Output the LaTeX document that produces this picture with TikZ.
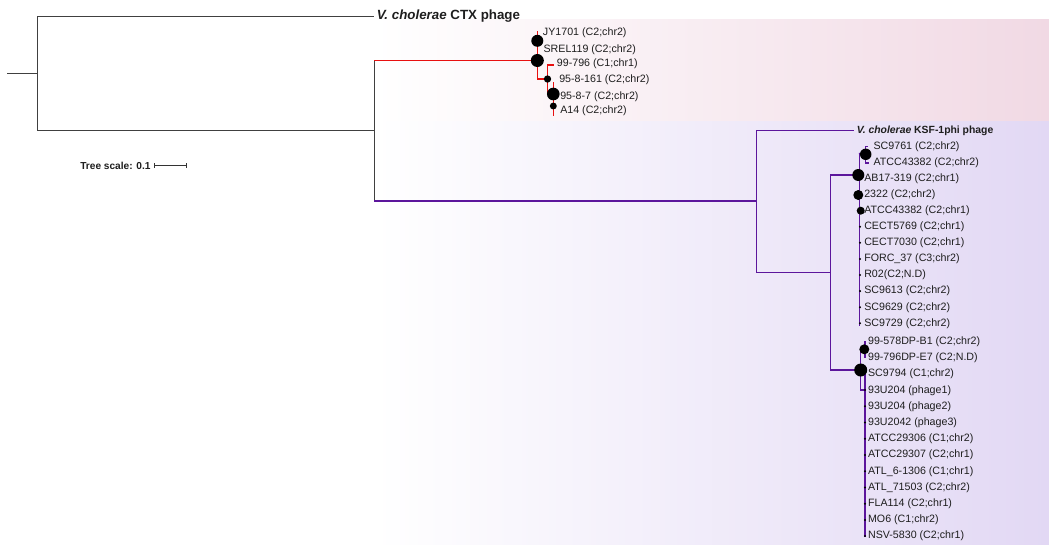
\documentclass[tikz,border=0pt]{standalone}
\usepackage{fontspec}
\setmainfont{Liberation Sans}
\definecolor{ctxred}{RGB}{232,16,16}
\definecolor{ksfpur}{RGB}{92,22,156}
\definecolor{pinkbg}{RGB}{241,217,228}
\definecolor{lavbg}{RGB}{226,216,244}
\definecolor{txt}{RGB}{30,30,30}
\begin{document}
\begin{tikzpicture}[x=0.75pt,y=-0.75pt,
  tline/.style={draw=black!75,line width=1.15pt,line cap=rect},
  cline/.style={draw=ctxred,line width=1pt,line cap=rect},
  kline/.style={draw=ksfpur,line width=1pt,line cap=rect},
  dotn/.style={circle,fill=black,inner sep=0pt,minimum size=#1},
  lab/.style={anchor=west,inner sep=0pt,text=txt,font=\fontsize{8}{9}\selectfont},
  blab/.style={anchor=west,inner sep=0pt,text=txt,font=\bfseries\fontsize{#1}{#1}\selectfont}]
\useasboundingbox (0,0) rectangle (1049,544);
% backgrounds
\shade[left color=white,right color=pinkbg] (374,19) rectangle (1049,121.7);
\shade[left color=white,right color=lavbg] (374,121.7) rectangle (1049,544);

% ---------- backbone ----------
\coordinate (root) at (7.3,73.3);
\coordinate (r0) at (37.7,73.3);
\coordinate (ctxtip) at (373.5,16.7);
\coordinate (n1) at (374.7,130.7);
\coordinate (ctxst) at (374.7,60.5);
\coordinate (ksfst) at (374.7,201);
\draw[tline] (root) -- (r0);
\draw[tline] (ctxtip) -| (r0) |- (n1);
\draw[tline] (ctxst) -- (ksfst);
\node[blab=10] (ctxlab) at (376.5,16.5) {\textit{V. cholerae} CTX phage};

% ---------- CTX clade ----------
\coordinate (c0) at (537.3,60.5);
\coordinate (c1) at (537.3,40.8);
\coordinate (cJY) at (537.3,31.5);
\coordinate (c2) at (547.5,79);
\coordinate (c99) at (553.3,65);
\coordinate (c3) at (553.3,94);
\coordinate (c4) at (553.3,106);
\coordinate (c161) at (553.3,82.5);
\coordinate (cA14) at (553.3,115);
\draw[cline] (ctxst) -- (c0);
\draw[cline] (cJY) |- (c2);
\draw[cline] (c99) -| (c2);
\draw[cline] (c2) |- (c3);
\draw[cline] (c161) -- (cA14);
\node[dotn=9pt] (dc1) at (c1) {};
\node[dotn=9.75pt] (dc0) at (c0) {};
\node[dotn=5.5pt] (dc2) at (c2) {};
\node[dotn=9.5pt] (dc3) at (c3) {};
\node[dotn=5.2pt] (dc4) at (c4) {};
\node[lab] (tJY) at (542.7,32.3) {JY1701 (C2;chr2)};
\node[lab] (tSR) at (543.3,50) {SREL119 (C2;chr2)};
\node[lab] (t99) at (556.7,63.5) {99-796 (C1;chr1)};
\node[lab] (t161) at (559,80) {95-8-161 (C2;chr2)};
\node[lab] (t87) at (560,96.7) {95-8-7 (C2;chr2)};
\node[lab] (tA14) at (560,110.5) {A14 (C2;chr2)};

% ---------- KSF clade ----------
\coordinate (k0) at (756.7,201);
\coordinate (ktip) at (853,130.7);
\coordinate (k1) at (830.7,272.3);
\coordinate (k2) at (858.3,175);
\coordinate (k5) at (860.7,370);
\draw[kline] (ksfst) -- (k0);
\draw[kline] (ktip) -| (k0) |- (k1);
\draw[kline] (k2) -| (k1) |- (k5);
\node[blab=7.8] (ksflab) at (856.5,130.5) {\textit{V. cholerae} KSF-1phi phage};

% cluster 1
\coordinate (kt1) at (859.5,153.5);
\coordinate (kb1) at (859.5,325);
\coordinate (k3) at (865.7,154.3);
\coordinate (l0) at (865.7,146.3);
\coordinate (l1) at (865.7,163);
\draw[kline] (kt1) -- (kb1);
\draw[kline] (kt1) -- (k3);
\draw[kline] (l0) -- (l1);
\draw[kline] (l1) -- ++(3,0);
\draw[kline] (l0) -- ++(1.5,0);
\node[dotn=8.6pt] (dk3) at (k3) {};
\node[dotn=9pt] (dk2) at (k2) {};
\node[dotn=7.5pt] (dk2b) at (858.3,195) {};
\node[dotn=6pt] (dk2c) at (860.7,210.7) {};
\foreach \y [count=\i] in {226.7,242.8,258.9,275,291.1,307.2,323.3}
  \node[dotn=1.7pt] (lf\i) at (860,\y) {};

% cluster 2
\coordinate (k4) at (864.3,349.3);
\coordinate (m0) at (865,341.5);
\coordinate (m1) at (865,357.5);
\coordinate (k4b) at (860.7,349.3);
\coordinate (k6) at (865,390);
\coordinate (mt) at (865,372);
\coordinate (mb) at (865,536.5);
\draw[kline] (m0) -- (m1);
\draw[kline] (k4b) -- (k4);
\draw[kline] (k4b) |- (k6);
\draw[kline] (mt) -- (mb);
\node[dotn=7.5pt] (dk4) at (k4) {};
\node[dotn=9.75pt] (dk5) at (k5) {};
\foreach \y [count=\i] in {390,406.3,422.5,438.7,455,471.3,487.5,503.7,520,536}
  \node[dotn=1.7pt] (lg\i) at (865,\y) {};

% labels cluster 1
\foreach \x/\y/\t [count=\i] in {
  873.3/146.7/SC9761 (C2;chr2),
  873.3/162.8/ATCC43382 (C2;chr2),
  864/178.9/AB17-319 (C2;chr1),
  864/195/2322 (C2;chr2),
  864/211/ATCC43382 (C2;chr1),
  864/226.9/CECT5769 (C2;chr1),
  864/243/CECT7030 (C2;chr1),
  864/259/FORC\_37 (C3;chr2),
  864/275.1/R02(C2;N.D),
  864/291.2/SC9613 (C2;chr2),
  864/307.4/SC9629 (C2;chr2),
  864/323.5/SC9729 (C2;chr2)}
  \node[lab] (ta\i) at (\x,\y) {\t};

% labels cluster 2
\foreach \y/\t [count=\i] in {
  341.7/99-578DP-B1 (C2;chr2),
  357.9/99-796DP-E7 (C2;N.D),
  374.1/SC9794 (C1;chr2),
  390.3/93U204 (phage1),
  406.5/93U204 (phage2),
  422.7/93U2042 (phage3),
  438.9/ATCC29306 (C1;chr2),
  455.1/ATCC29307 (C2;chr1),
  471.3/ATL\_6-1306 (C1;chr1),
  487.5/ATL\_71503 (C2;chr2),
  503.7/FLA114 (C2;chr1),
  519.9/MO6 (C1;chr2),
  536.1/NSV-5830 (C2;chr1)}
  \node[lab] (tb\i) at (867.8,\y) {\t};

% ---------- tree scale ----------
\node[anchor=east,inner sep=0pt,text=txt,font=\bfseries\fontsize{7.6}{8}\selectfont] (scl) at (150.8,165.5) {Tree scale: 0.1};
\coordinate (sa) at (154.3,165.7);
\coordinate (sb) at (186.7,165.7);
\draw[black!80,line width=0.8pt] (sa) -- (sb);
\draw[black!80,line width=0.8pt] (sa) ++(0,-2.6) -- ++(0,5.2);
\draw[black!80,line width=0.8pt] (sb) ++(0,-2.6) -- ++(0,5.2);
\end{tikzpicture}
\end{document}
